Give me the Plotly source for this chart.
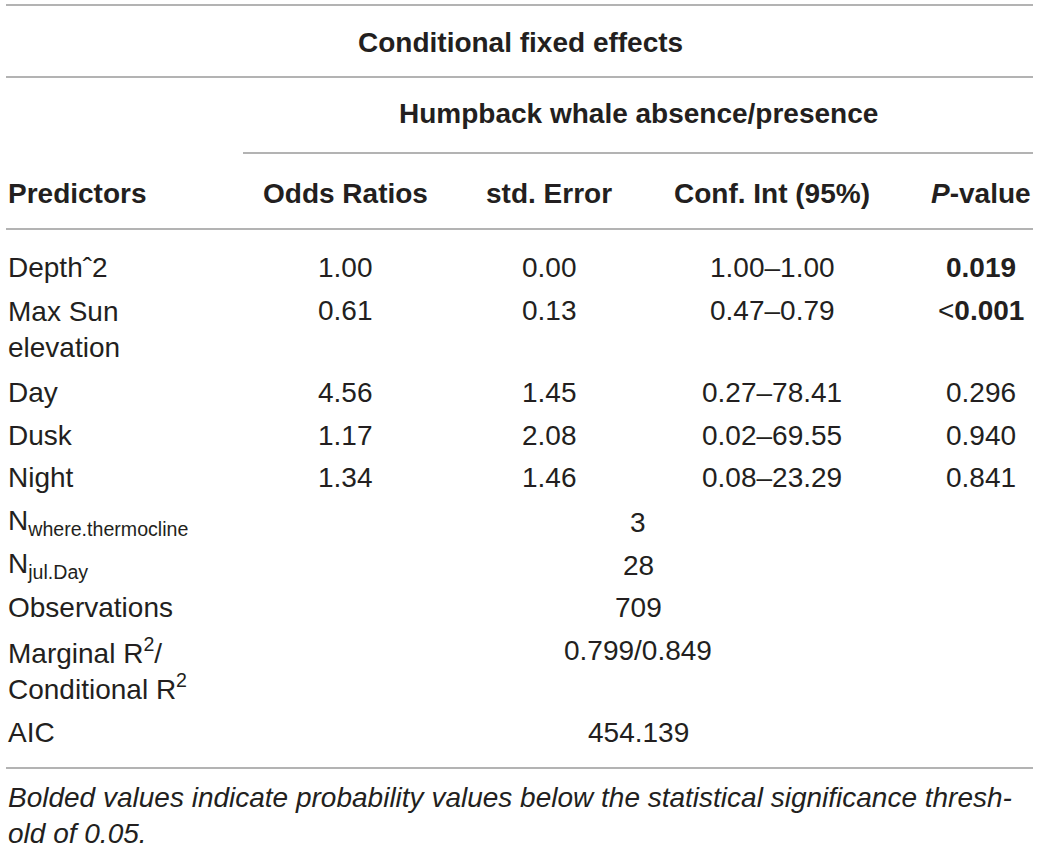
import plotly.graph_objects as go

# ---- data ----
title_top = "Conditional fixed effects"
title_group = "Humpback whale absence/presence"
headers = ["Predictors", "Odds Ratios", "std. Error", "Conf. Int (95%)", "<i>P</i>-value"]

predictors = ["Depthˆ2", "Max Sun<br>elevation", "Day", "Dusk", "Night"]
odds_ratios = ["1.00", "0.61", "4.56", "1.17", "1.34"]
std_errors = ["0.00", "0.13", "1.45", "2.08", "1.46"]
conf_ints = ["1.00–1.00", "0.47–0.79", "0.27–78.41", "0.02–69.55", "0.08–23.29"]
p_values = ["<b>0.019</b>", "<<b>0.001</b>", "0.296", "0.940", "0.841"]

stat_labels = ["N<sub>where.thermocline</sub>", "N<sub>jul.Day</sub>", "Observations",
               "Marginal R<sup>2</sup>/<br>Conditional R<sup>2</sup>", "AIC"]
stat_values = ["3", "28", "709", "0.799/0.849", "454.139"]

footnote = ("<i>Bolded values indicate probability values below the statistical significance thresh-"
            "<br>old of 0.05.</i>")

# ---- layout constants ----
W, H = 1040, 849
FONT = "Liberation Sans, Arial, Helvetica, sans-serif"
TXT = "#231f20"
LINE = "#9a9a9a"
FS = 28
L, R = 6, 1033
col_x = [L, 345, 549, 772, 981]
merged_x = 638

pred_y = [267, 310, 392, 435, 477]
pred_lines = [1, 2, 1, 1, 1]
stat_y = [522, 565, 607, 650, 732]
stat_lines = [1, 1, 1, 2, 1]

fig = go.Figure()
ann = []

def add(x, y, text, xanchor="center", bold=False, size=FS, yanchor="middle"):
    ann.append(dict(x=x, y=y, xref="x", yref="y", text=(f"<b>{text}</b>" if bold else text),
                    showarrow=False, xanchor=xanchor, yanchor=yanchor,
                    font=dict(family=FONT, size=size, color=TXT), align="left"))

add(W / 2, 42, title_top, bold=True)
add((243 + R) / 2, 113, title_group, bold=True)
for i, h in enumerate(headers):
    add(col_x[i], 193, h, xanchor="left" if i == 0 else "center", bold=True)

for i in range(len(predictors)):
    y = pred_y[i]
    yl = y + (pred_lines[i] - 1) * 19
    add(L, yl, predictors[i], xanchor="left")
    add(col_x[1], y, odds_ratios[i])
    add(col_x[2], y, std_errors[i])
    add(col_x[3], y, conf_ints[i])
    add(col_x[4], y, p_values[i])

for i in range(len(stat_labels)):
    y = stat_y[i]
    yl = y + (stat_lines[i] - 1) * 19
    add(L, yl, stat_labels[i], xanchor="left")
    add(merged_x, y, stat_values[i])

add(L, 815, footnote, xanchor="left", size=FS)

shapes = []
for (x0, x1, y) in [(L, R, 5), (L, R, 77), (243, R, 153), (L, R, 229), (L, R, 768)]:
    shapes.append(dict(type="line", xref="x", yref="y", x0=x0, x1=x1, y0=y, y1=y,
                       line=dict(color=LINE, width=1.5)))

fig.update_layout(
    width=W, height=H, margin=dict(l=0, r=0, t=0, b=0),
    paper_bgcolor="white", plot_bgcolor="white",
    xaxis=dict(range=[0, W], visible=False, fixedrange=True),
    yaxis=dict(range=[H, 0], visible=False, fixedrange=True),
    annotations=ann, shapes=shapes, showlegend=False,
)
fig.write_html("out.html", config={"displayModeBar": False},
               post_script="document.body.style.margin='0';document.body.style.overflow='hidden';")
